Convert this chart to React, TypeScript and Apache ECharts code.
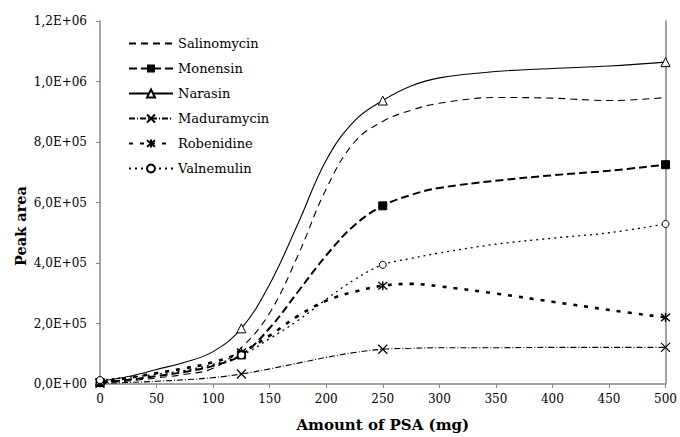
import React, { useEffect, useRef } from "react";
import * as echarts from "echarts";

const XS = [0, 25, 50, 75, 100, 125, 150, 175, 200, 225, 250, 275, 300, 350, 400, 450, 500];
const MARKER_XS = [0, 125, 250, 500];

const salinomycin = [3000, 10000, 20000, 32000, 52000, 120000, 235000, 425000, 645000, 800000, 868000, 905000, 928000, 947000, 945000, 937000, 947000];
const monensin = [5000, 14000, 26000, 40000, 60000, 96000, 185000, 305000, 425000, 525000, 589000, 625000, 648000, 672000, 690000, 705000, 725000];
const narasin = [10000, 25000, 48000, 72000, 107000, 184000, 330000, 530000, 740000, 870000, 937000, 985000, 1012000, 1033000, 1043000, 1051000, 1064000];
const maduramycin = [2000, 5000, 9000, 14000, 21000, 33000, 50000, 69000, 88000, 104000, 115000, 118000, 120000, 120000, 121000, 121000, 121000];
const robenidine = [5000, 20000, 36000, 52000, 72000, 105000, 160000, 225000, 275000, 305000, 325000, 331000, 323000, 299000, 272000, 245000, 220000];
const valnemulin = [13000, 22000, 32000, 45000, 65000, 95000, 150000, 210000, 280000, 345000, 394000, 415000, 433000, 462000, 482000, 500000, 529000];

const FONT = "DejaVu Serif";

function sci(v: number): string {
  if (v === 0) return "0,0E+00";
  const e = Math.floor(Math.log10(v) + 1e-9);
  const m = v / Math.pow(10, e);
  return m.toFixed(1).replace(".", ",") + "E+" + String(e).padStart(2, "0");
}

function buildData(ys: number[], withMarkers: boolean) {
  return XS.map((x, i) => {
    if (withMarkers && MARKER_XS.includes(x)) return { value: [x, ys[i]] };
    return { value: [x, ys[i]], symbol: "none" };
  });
}

const X_PATH = "path://M0,0L10,10M10,0L0,10";
const STAR_PATH = "path://M0,0L10,10M10,0L0,10M5,-1L5,11";

export default function App() {
  const ref = useRef<HTMLDivElement>(null);
  useEffect(() => {
    document.body.style.margin = "0";
    const chart = echarts.init(ref.current!, null, { renderer: "svg" });
    const base = {
      type: "line",
      smooth: 0.4,
      showSymbol: true,
    };
    chart.setOption({
      animation: false,
      backgroundColor: "#ffffff",
      textStyle: { fontFamily: FONT, color: "#000" },
      grid: { left: 100, right: 14, top: 21, bottom: 53, containLabel: false },
      legend: {
        orient: "vertical",
        left: 128,
        top: 36,
        padding: 0,
        itemWidth: 44,
        itemHeight: 10,
        itemGap: 10,
        textStyle: { fontFamily: FONT, fontSize: 13, color: "#000", lineHeight: 15 },
        data: [
          { name: "Salinomycin", itemStyle: { opacity: 0 } },
          "Monensin",
          "Narasin",
          "Maduramycin",
          "Robenidine",
          "Valnemulin",
        ],
      },
      xAxis: {
        type: "value",
        min: 0,
        max: 500,
        interval: 50,
        name: "Amount of PSA (mg)",
        nameLocation: "middle",
        nameGap: 33,
        nameTextStyle: { fontFamily: FONT, fontSize: 15, fontWeight: "bold", color: "#000" },
        axisLine: { show: true, lineStyle: { color: "#868686", width: 1.5 } },
        axisTick: { show: true, length: 4, lineStyle: { color: "#868686" } },
        axisLabel: { fontFamily: FONT, fontSize: 12, color: "#000", margin: 9 },
        splitLine: { show: false },
      },
      yAxis: [
        {
          type: "value",
          min: 0,
          max: 1200000,
          interval: 200000,
          axisLine: { show: true, lineStyle: { color: "#868686", width: 1.5 } },
          axisTick: { show: true, length: 4, lineStyle: { color: "#868686" } },
          axisLabel: { fontFamily: FONT, fontSize: 12, color: "#000", margin: 13, formatter: sci },
          splitLine: { show: false },
        },
        {
          type: "value",
          min: 0,
          max: 1200000,
          interval: 200000,
          position: "right",
          axisLine: { show: true, lineStyle: { color: "#868686", width: 1.5 } },
          axisTick: { show: false },
          axisLabel: { show: false },
          splitLine: { show: false },
        },
      ],
      graphic: [
        {
          type: "text",
          x: 20,
          y: 226,
          rotation: Math.PI / 2,
          style: {
            text: "Peak area",
            fontFamily: FONT,
            fontSize: 14.5,
            fontWeight: "bold",
            fill: "#000",
            align: "center",
            verticalAlign: "middle",
          },
        },
      ],
      series: [
        {
          ...base,
          name: "Salinomycin",
          data: buildData(salinomycin, false),
          symbol: "circle",
          lineStyle: { color: "#000", width: 1.1, type: [7, 5] },
          itemStyle: { color: "#000" },
        },
        {
          ...base,
          name: "Monensin",
          data: buildData(monensin, true),
          symbol: "rect",
          symbolSize: 8,
          lineStyle: { color: "#000", width: 2, type: [8, 4] },
          itemStyle: { color: "#000", borderColor: "#000" },
        },
        {
          ...base,
          name: "Narasin",
          data: buildData(narasin, true),
          symbol: "triangle",
          symbolSize: 9,
          lineStyle: { color: "#000", width: 1.1, type: "solid" },
          itemStyle: { color: "#fff", borderColor: "#000", borderWidth: 1 },
        },
        {
          ...base,
          name: "Maduramycin",
          data: buildData(maduramycin, true),
          symbol: X_PATH,
          symbolSize: 9,
          lineStyle: { color: "#000", width: 1.1, type: [6, 2, 1, 2] },
          itemStyle: { color: "none", borderColor: "#000", borderWidth: 1.2 },
        },
        {
          ...base,
          name: "Robenidine",
          data: buildData(robenidine, true),
          symbol: STAR_PATH,
          symbolSize: 9,
          lineStyle: { color: "#000", width: 2.6, type: [4, 7] },
          itemStyle: { color: "none", borderColor: "#000", borderWidth: 1.4 },
        },
        {
          ...base,
          name: "Valnemulin",
          data: buildData(valnemulin, true),
          symbol: "circle",
          symbolSize: 7,
          lineStyle: { color: "#000", width: 1.3, type: [2, 4] },
          itemStyle: { color: "#fff", borderColor: "#000", borderWidth: 1 },
        },
      ],
    });
    return () => chart.dispose();
  }, []);
  return <div ref={ref} style={{ width: 680, height: 437 }} />;
}
